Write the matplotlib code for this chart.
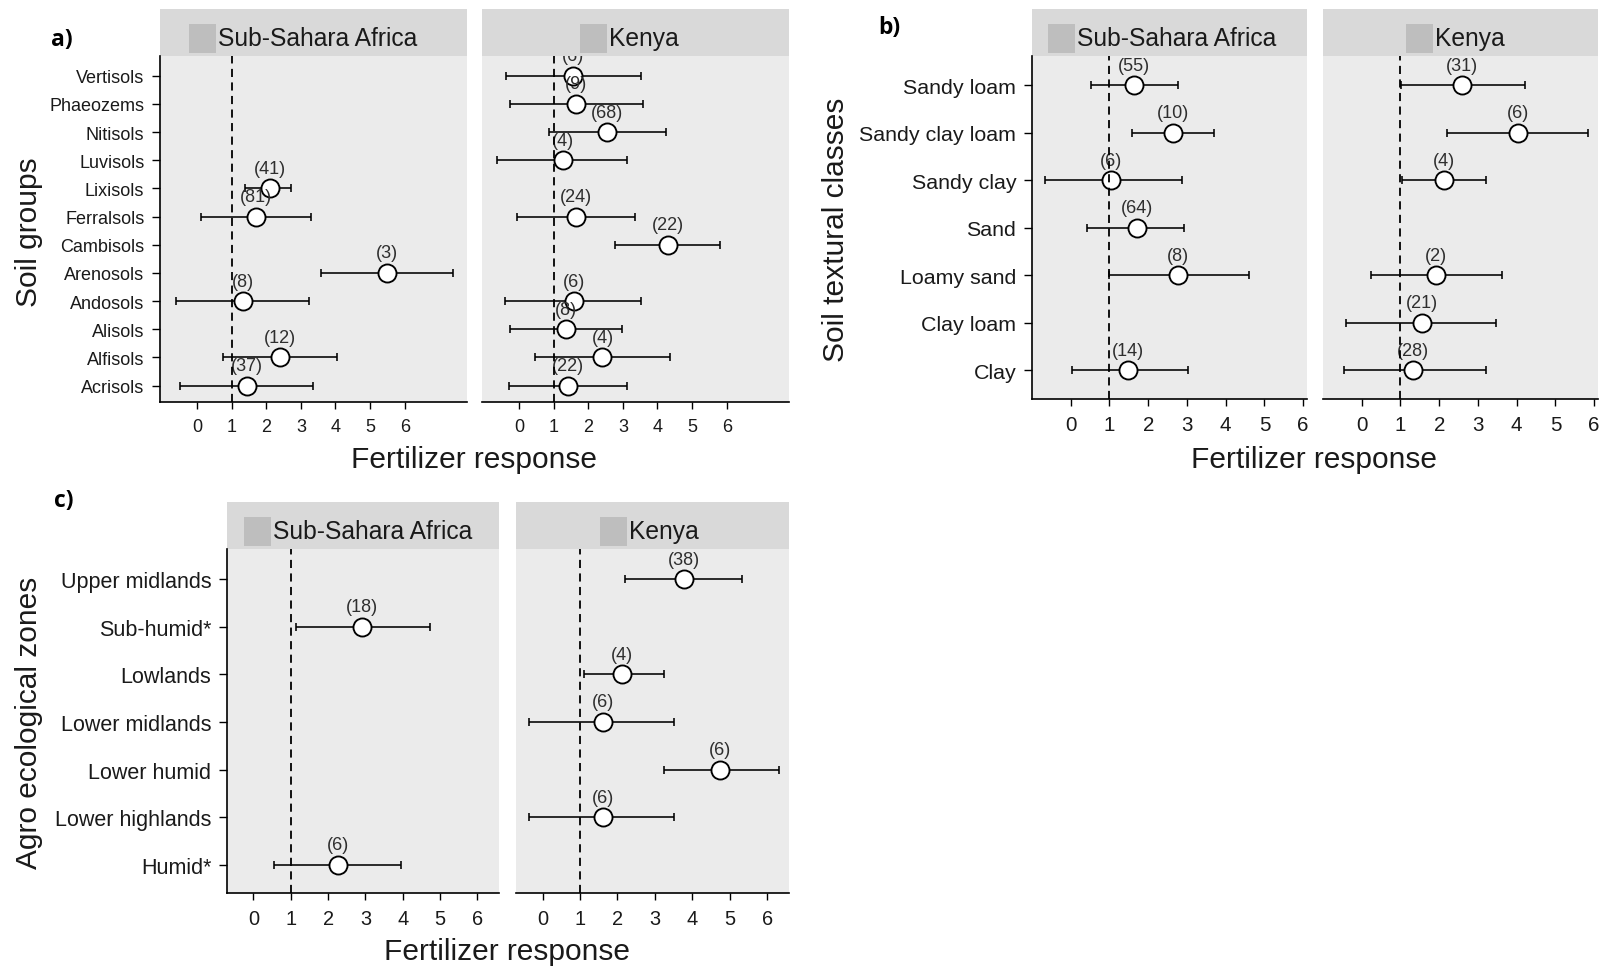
import numpy as np
import matplotlib
matplotlib.use("Agg")
import matplotlib.pyplot as plt
from matplotlib.patches import Rectangle

nan = np.nan

# ---------------- a) Soil groups (bottom to top) ----------------
soil_groups = ["Acrisols", "Alfisols", "Alisols", "Andosols", "Arenosols", "Cambisols",
               "Ferralsols", "Lixisols", "Luvisols", "Nitisols", "Phaeozems", "Vertisols"]
soil_ssa_mean = [1.45, 2.39, nan, 1.33, 5.49, nan, 1.70, 2.12, nan, nan, nan, nan]
soil_ssa_lo = [-0.49, 0.74, nan, -0.61, 3.57, nan, 0.12, 1.40, nan, nan, nan, nan]
soil_ssa_hi = [3.35, 4.05, nan, 3.23, 7.39, nan, 3.28, 2.71, nan, nan, nan, nan]
soil_ssa_n = [37, 12, None, 8, 3, None, 81, 41, None, None, None, None]

soil_ken_mean = [1.41, 2.41, 1.36, 1.59, nan, 4.29, 1.65, nan, 1.27, 2.54, 1.65, 1.57]
soil_ken_lo = [-0.30, 0.47, -0.25, -0.41, nan, 2.76, -0.06, nan, -0.65, 0.88, -0.25, -0.37]
soil_ken_hi = [3.12, 4.36, 2.97, 3.52, nan, 5.82, 3.35, nan, 3.12, 4.25, 3.59, 3.52]
soil_ken_n = [22, 4, 8, 6, None, 22, 24, None, 4, 68, 9, 6]

# ---------------- b) Soil textural classes (bottom to top) ----------------
texture_classes = ["Clay", "Clay loam", "Loamy sand", "Sand", "Sandy clay",
                   "Sandy clay loam", "Sandy loam"]
tex_ssa_mean = [1.48, nan, 2.76, 1.70, 1.05, 2.65, 1.64]
tex_ssa_lo = [0.02, nan, 0.98, 0.42, -0.67, 1.59, 0.53]
tex_ssa_hi = [3.02, nan, 4.61, 2.92, 2.86, 3.71, 2.76]
tex_ssa_n = [14, None, 8, 64, 6, 10, 55]

tex_ken_mean = [1.32, 1.56, 1.91, nan, 2.12, 4.04, 2.60]
tex_ken_lo = [-0.47, -0.41, 0.23, nan, 1.05, 2.19, 1.02]
tex_ken_hi = [3.20, 3.46, 3.62, nan, 3.20, 5.84, 4.22]
tex_ken_n = [28, 21, 2, None, 4, 6, 31]

# ---------------- c) Agro ecological zones (bottom to top) ----------------
agro_zones = ["Humid*", "Lower highlands", "Lower humid", "Lower midlands",
              "Lowlands", "Sub-humid*", "Upper midlands"]
aez_ssa_mean = [2.26, nan, nan, nan, nan, 2.90, nan]
aez_ssa_lo = [0.55, nan, nan, nan, nan, 1.14, nan]
aez_ssa_hi = [3.95, nan, nan, nan, nan, 4.72, nan]
aez_ssa_n = [6, None, None, None, None, 18, None]

aez_ken_mean = [nan, 1.60, 4.75, 1.60, 2.13, nan, 3.77]
aez_ken_lo = [nan, -0.36, 3.23, -0.36, 1.11, nan, 2.20]
aez_ken_hi = [nan, 3.50, 6.31, 3.50, 3.23, nan, 5.33]
aez_ken_n = [None, 6, 6, 6, 4, None, 38]

x_ticks = [0, 1, 2, 3, 4, 5, 6]
region_names = ["Sub-Sahara Africa", "Kenya"]

# ---------------- figure ----------------
W, H = 1599, 970
DPI = 100
plt.rcParams["font.family"] = ["Liberation Sans", "DejaVu Sans"]
fig = plt.figure(figsize=(W / DPI, H / DPI), dpi=DPI)
fig.patch.set_facecolor("white")

PANEL_BG = "#EBEBEB"
STRIP_BG = "#D9D9D9"
KEY_GREY = "#BEBEBE"
TEXT_DARK = "#1A1A1A"
LABEL_COL = "#2E2E2E"


def px_axes(left, top, right, bottom):
    return fig.add_axes([left / W, 1 - bottom / H, (right - left) / W, (bottom - top) / H])


def strip(left, top, right, bottom, key_offset, title):
    sax = px_axes(left, top, right, bottom)
    w, h = right - left, bottom - top
    sax.set_xlim(0, w)
    sax.set_ylim(h, 0)
    sax.set_facecolor(STRIP_BG)
    sax.set_xticks([])
    sax.set_yticks([])
    for s in sax.spines.values():
        s.set_visible(False)
    cy = 29
    sax.add_patch(Rectangle((key_offset, cy - 14.5), 27, 29, facecolor=KEY_GREY,
                            edgecolor="none"))
    sax.text(key_offset + 29, cy, title, ha="left", va="center", fontsize=17.7,
             color=TEXT_DARK)


def facet(rect, strip_top, key_offset, title, cats, mean, lo, hi, n, xlim, ylim,
          show_y, tick_fs, cat_fs):
    left, top, right, bottom = rect
    strip(left, strip_top, right, top, key_offset, title)
    ax = px_axes(left, top, right, bottom)
    ax.set_facecolor(PANEL_BG)
    y = np.arange(1, len(cats) + 1)
    mean = np.asarray(mean, float)
    lo = np.asarray(lo, float)
    hi = np.asarray(hi, float)
    ok = ~np.isnan(mean)
    ax.errorbar(mean[ok], y[ok], xerr=[mean[ok] - lo[ok], hi[ok] - mean[ok]],
                fmt="none", ecolor="black", elinewidth=1.15, capsize=2.8,
                capthick=1.15, zorder=3)
    ax.plot(mean[ok], y[ok], "o", markersize=13, markerfacecolor="white",
            markeredgecolor="black", markeredgewidth=1.35, zorder=4)
    for xi, yi, ni in zip(mean, y, n):
        if ni is None or np.isnan(xi):
            continue
        ax.annotate(f"({ni})", (xi, yi), xytext=(0, 20), textcoords="offset pixels",
                    ha="center", va="center", fontsize=13, color=LABEL_COL,
                    zorder=5, clip_on=True)
    ax.axvline(1, color="black", linestyle=(0, (4.5, 3)), linewidth=1.3, zorder=6)
    ax.set_xlim(*xlim)
    ax.set_ylim(*ylim)
    ax.set_xticks(x_ticks)
    ax.set_xticklabels([str(t) for t in x_ticks])
    ax.tick_params(axis="x", length=5, width=1.0, pad=6.5, labelsize=tick_fs,
                   colors="black", labelcolor=TEXT_DARK)
    ax.spines["top"].set_visible(False)
    ax.spines["right"].set_visible(False)
    ax.spines["bottom"].set_linewidth(1.2)
    if show_y:
        ax.set_yticks(y)
        ax.set_yticklabels(cats)
        ax.tick_params(axis="y", length=5.8, width=1.0, pad=5.5, labelsize=cat_fs,
                       colors="black", labelcolor=TEXT_DARK)
        ax.spines["left"].set_linewidth(1.2)
    else:
        ax.set_yticks([])
        ax.spines["left"].set_visible(False)
    return ax


# a) soil groups
facet((160, 57, 467, 403), 10, 29, region_names[0], soil_groups, soil_ssa_mean,
      soil_ssa_lo, soil_ssa_hi, soil_ssa_n, (-1.07, 7.8), (0.42, 12.7), True, 13, 13)
facet((482, 57, 789, 403), 10, 98, region_names[1], soil_groups, soil_ken_mean,
      soil_ken_lo, soil_ken_hi, soil_ken_n, (-1.07, 7.8), (0.42, 12.7), False, 13, 13)

# b) soil textural classes
facet((1032, 57, 1307, 400), 10, 16, region_names[0], texture_classes, tex_ssa_mean,
      tex_ssa_lo, tex_ssa_hi, tex_ssa_n, (-1.0, 6.1), (0.4, 7.62), True, 14.8, 15.4)
facet((1323, 57, 1598, 400), 10, 83, region_names[1], texture_classes, tex_ken_mean,
      tex_ken_lo, tex_ken_hi, tex_ken_n, (-1.0, 6.1), (0.4, 7.62), False, 14.8, 15.4)

# c) agro ecological zones
facet((227, 550, 499, 894), 503, 17, region_names[0], agro_zones, aez_ssa_mean,
      aez_ssa_lo, aez_ssa_hi, aez_ssa_n, (-0.71, 6.58), (0.41, 7.63), True, 14.4, 15.5)
facet((516, 550, 789, 894), 503, 84, region_names[1], agro_zones, aez_ken_mean,
      aez_ken_lo, aez_ken_hi, aez_ken_n, (-0.71, 6.58), (0.41, 7.63), False, 14.4, 15.5)


def ftext(x, y, s, **kw):
    fig.text(x / W, 1 - y / H, s, **kw)


title_kw = dict(fontsize=21.5, color=TEXT_DARK, ha="center", va="center")
ftext(474, 460, "Fertilizer response", **title_kw)
ftext(1314, 460, "Fertilizer response", **title_kw)
ftext(507, 952, "Fertilizer response", **title_kw)
ftext(29, 232, "Soil groups", rotation=90, **title_kw)
ftext(836, 230, "Soil textural classes", rotation=90, **title_kw)
ftext(29, 723, "Agro ecological zones", rotation=90, **title_kw)

panel_kw = dict(fontsize=16.5, fontweight="bold", family=["Open Sans", "DejaVu Sans"],
                color="black", ha="center", va="center")
ftext(62, 40, "a)", **panel_kw)
ftext(889, 28, "b)", **panel_kw)
ftext(64, 501, "c)", **panel_kw)

fig.savefig("out.png", dpi=DPI, facecolor="white")
